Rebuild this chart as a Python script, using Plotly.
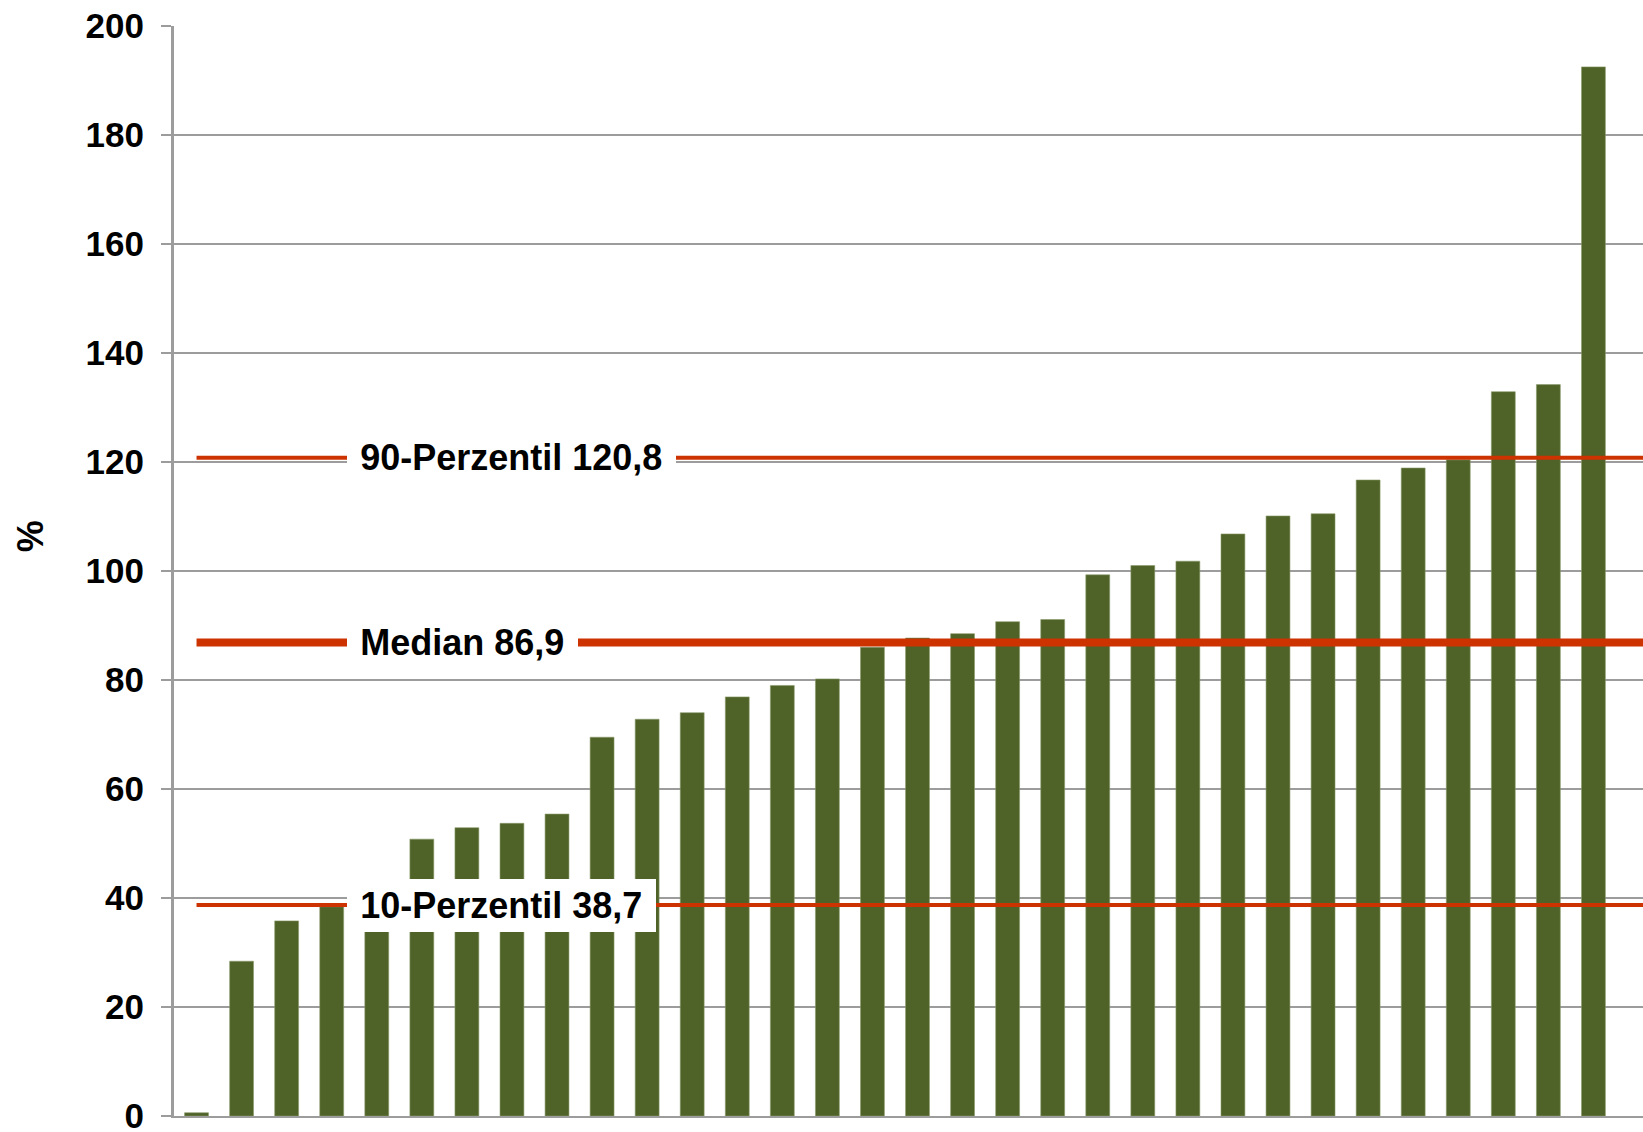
import plotly.graph_objects as go

# ---- data ----
categories = [str(i) for i in range(1, 33)]
values = [0.6, 28.4, 35.8, 38.4, 40.0, 50.8, 52.9, 53.7, 55.4, 69.5,
          72.8, 74.0, 76.9, 79.0, 80.2, 86.0, 87.7, 88.5, 90.7, 91.1,
          99.3, 101.0, 101.8, 106.8, 110.1, 110.5, 116.7, 118.9, 120.4, 132.9,
          134.2, 192.5]

ref_names = ["10-Perzentil 38,7", "Median 86,9", "90-Perzentil 120,8"]
ref_values = [38.7, 86.9, 120.8]
ref_widths = [4, 8, 4]

y_ticks = [0, 20, 40, 60, 80, 100, 120, 140, 160, 180, 200]

BAR = "#4F6228"
RED = "#CC3300"
GRID = "#9C9C9C"
FONT = "Liberation Sans, Arial, sans-serif"
THIN = "\u2009"

x_end = 32.1  # right end of the category axis (cropped chart)

fig = go.Figure()
fig.add_trace(go.Bar(
    x=list(range(len(values))),
    y=values,
    width=0.53,
    marker=dict(color=BAR, line=dict(color="#8A9A6A", width=0.6)),
    hoverinfo="skip",
    showlegend=False,
))

for name, v, w in zip(ref_names, ref_values, ref_widths):
    fig.add_shape(type="line", xref="x", yref="y",
                  x0=0, x1=x_end, y0=v, y1=v,
                  line=dict(color=RED, width=w), layer="above")
    fig.add_annotation(
        xref="paper", yref="y", x=0.1175, y=v,
        xanchor="left", yanchor="middle",
        text=THIN + name + THIN, showarrow=False,
        font=dict(family=FONT, size=36, color="#000000", weight="bold"),
        bgcolor="#FFFFFF", borderpad=6, borderwidth=0,
    )

fig.add_annotation(
    xref="paper", yref="paper", x=-0.098, y=0.532,
    xanchor="center", yanchor="middle",
    text="%", textangle=-90, showarrow=False,
    font=dict(family=FONT, size=36, color="#000000", weight="bold"),
)

fig.update_layout(
    width=1643, height=1132,
    margin=dict(l=174, r=0, t=26, b=16, pad=0, autoexpand=False),
    paper_bgcolor="#FFFFFF", plot_bgcolor="#FFFFFF",
    showlegend=False,
    font=dict(family=FONT, color="#000000"),
)
fig.update_xaxes(
    range=[-0.5, x_end], automargin=False,
    showticklabels=False, ticks="",
    showgrid=False, zeroline=False,
    showline=True, linecolor=GRID, linewidth=2,
)
fig.update_yaxes(
    range=[0, 200], tickvals=y_ticks, automargin=False,
    ticktext=[str(t) for t in y_ticks],
    ticks="outside", ticklen=10, tickwidth=2, tickcolor=GRID,
    ticklabelstandoff=10, ticklabeloverflow="allow",
    tickfont=dict(family=FONT, size=35, color="#000000", weight="bold"),
    showgrid=True, gridcolor=GRID, gridwidth=2,
    zeroline=False,
    showline=True, linecolor=GRID, linewidth=3,
)

fig.write_html("out.html")
